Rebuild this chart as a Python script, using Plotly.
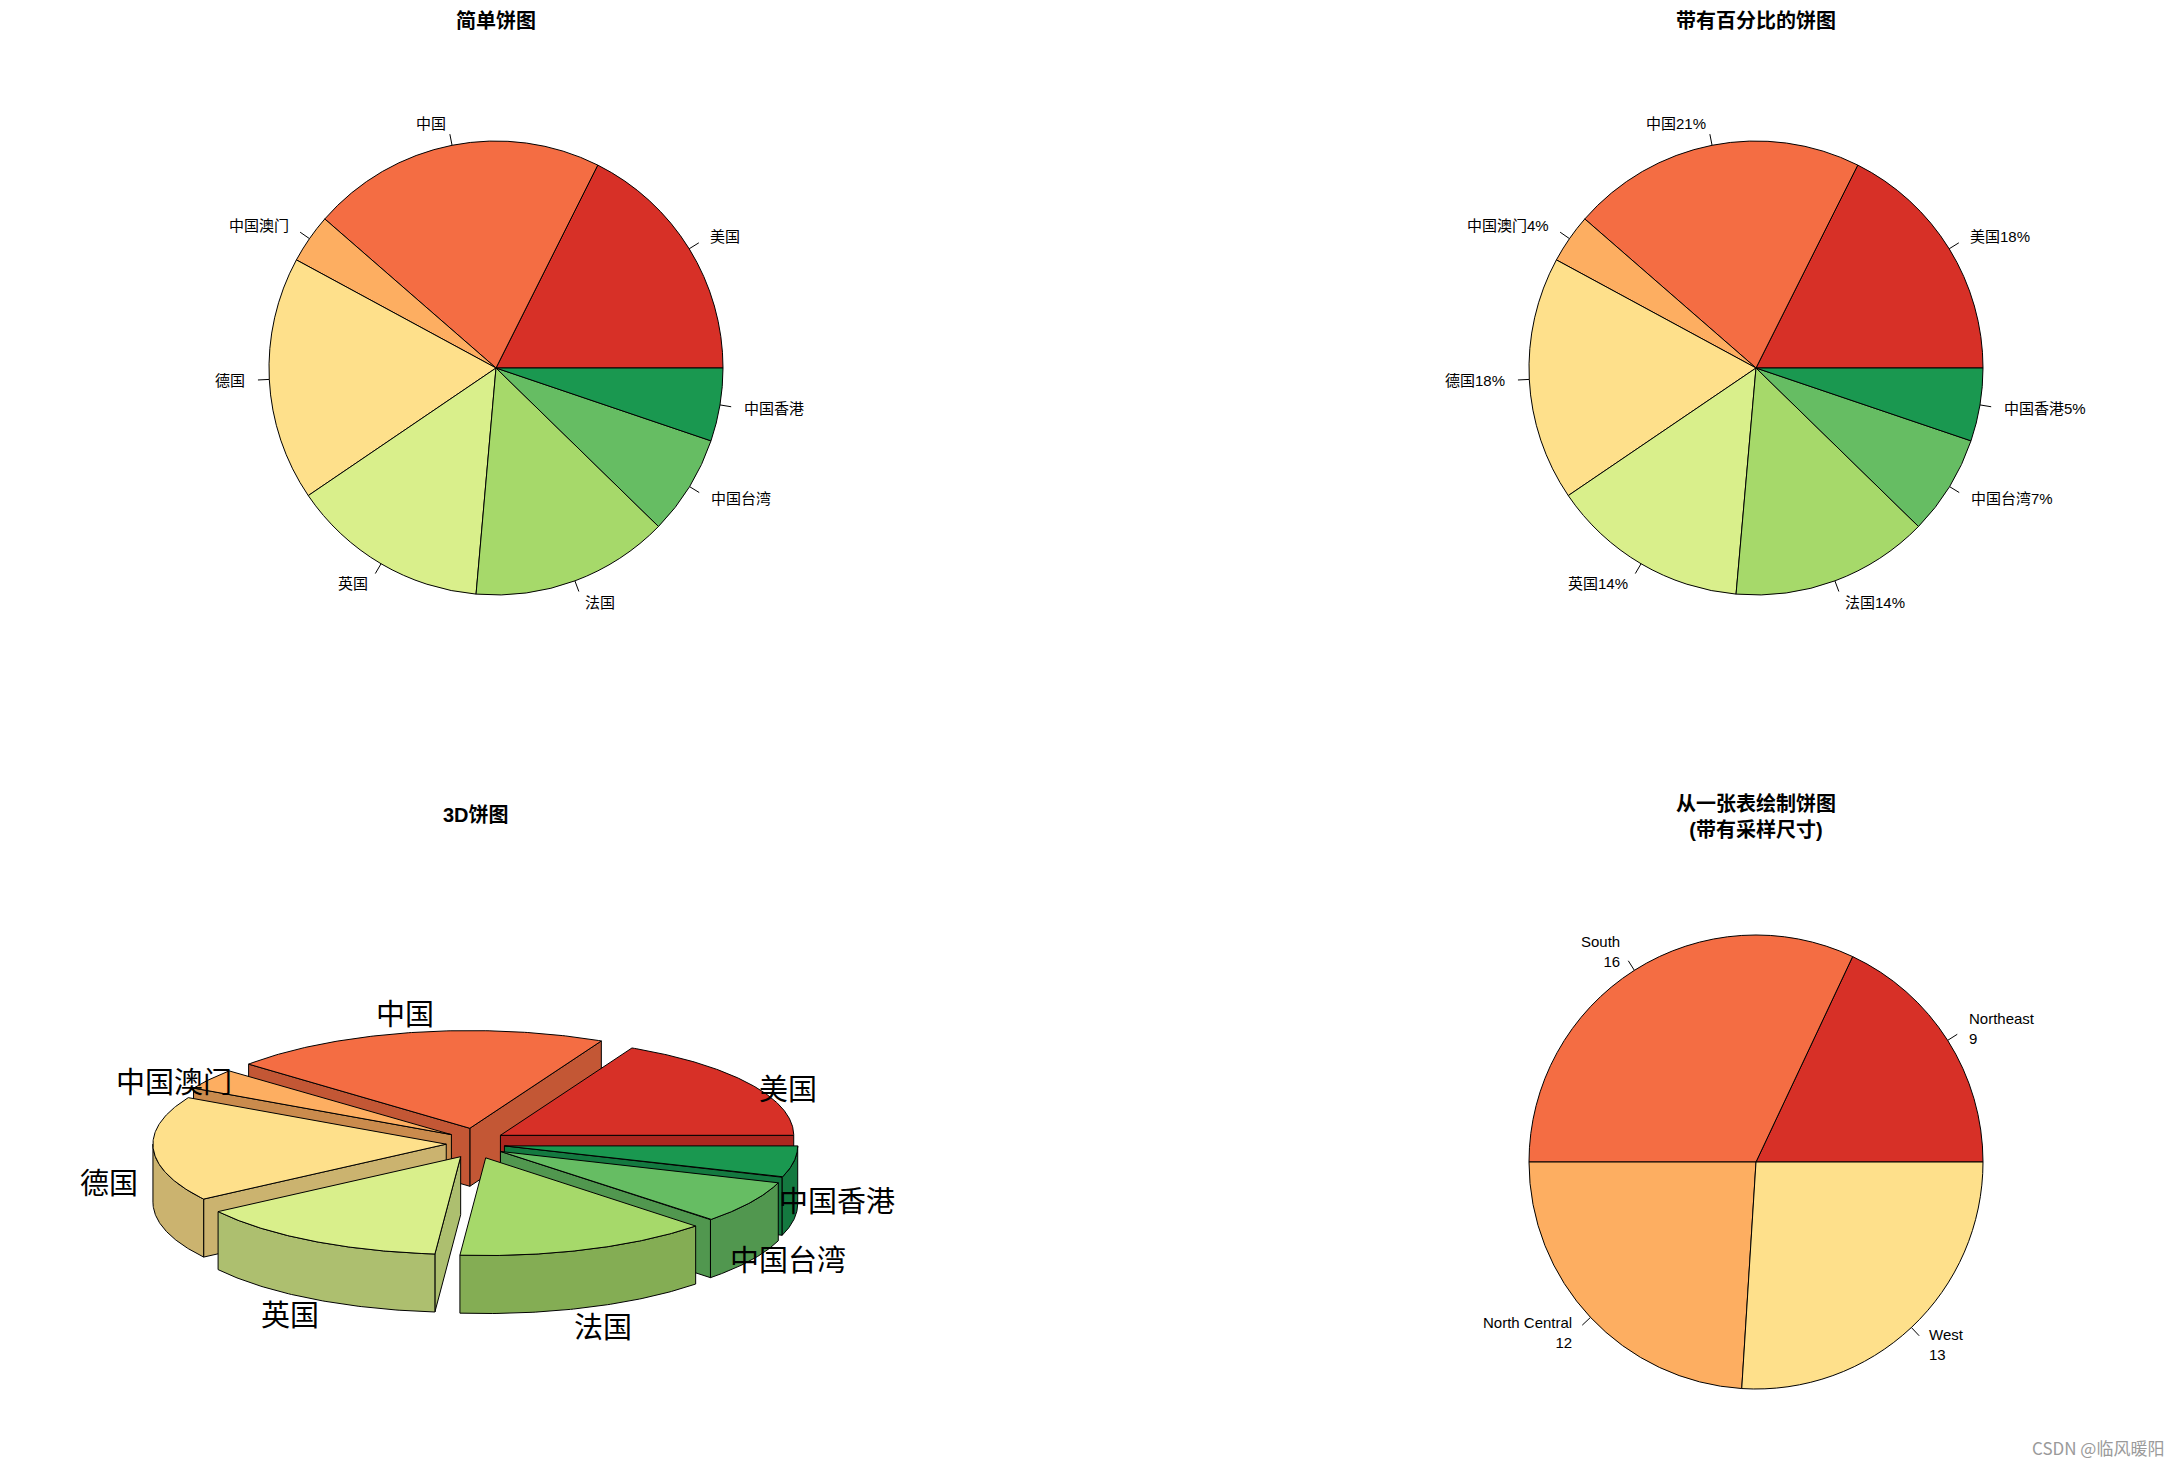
import numpy as np
import plotly.graph_objects as go

W, H = 2180, 1466

# ---------------- data ----------------
countries = ["美国", "中国", "中国澳门", "德国", "英国", "法国", "中国台湾", "中国香港"]
shares = [17.6, 21.0, 3.5, 17.4, 14.1, 14.1, 7.1, 5.2]
pct_labels = ["18%", "21%", "4%", "18%", "14%", "14%", "7%", "5%"]
colors = ["#D73027", "#F46D43", "#FDAE61", "#FEE08B", "#D9EF8B", "#A6D96A", "#66BD63", "#1A9850"]

regions = ["Northeast", "South", "North Central", "West"]
region_counts = [9, 16, 12, 13]
region_colors = colors[:4]

titles = ["简单饼图", "带有百分比的饼图", "3D饼图", "从一张表绘制饼图<br>(带有采样尺寸)"]
watermark = "CSDN @临风暖阳"

# ---------------- layout constants ----------------
R2 = 227
pie_tl = (496, 368)
pie_tr = (1756, 368)
pie_br = (1756, 1162)
c3 = (475.5, 1143.4)
Rx3, Ry3 = 293.3, 97.7
ex3, ey3 = 29.3, 15.4
h3 = 58

LABEL_FONT = "Liberation Sans, Arial, Noto Sans CJK SC"
TITLE_FONT = "Liberation Sans, Noto Sans CJK SC"

fig = go.Figure()
annotations = []
shapes = []


def slice_angles(vals):
    v = np.asarray(vals, dtype=float)
    cum = np.concatenate([[0], np.cumsum(v)]) / v.sum() * 360.0
    return cum[:-1], cum[1:]


def add_pie(vals, labels, cols, center):
    cx, cy = center
    first_deg = 360.0 * vals[0] / float(sum(vals))
    fig.add_trace(go.Pie(
        values=vals, labels=labels, sort=False, direction="counterclockwise",
        rotation=90 - first_deg, textinfo="none", hoverinfo="label+value",
        marker=dict(colors=cols, line=dict(color="black", width=1)),
        domain=dict(x=[(cx - R2) / W, (cx + R2) / W],
                    y=[1 - (cy + R2) / H, 1 - (cy - R2) / H]),
        showlegend=False,
    ))
    a0, a1 = slice_angles(vals)
    for lab, s, e in zip(labels, a0, a1):
        m = np.deg2rad((s + e) / 2)
        c, sn = np.cos(m), np.sin(m)
        shapes.append(dict(type="line", xref="x", yref="y",
                           x0=cx + R2 * c, y0=cy - R2 * sn,
                           x1=cx + 1.05 * R2 * c, y1=cy - 1.05 * R2 * sn,
                           line=dict(color="black", width=1)))
        right = c >= 0
        annotations.append(dict(
            x=cx + 1.1 * R2 * c, y=cy - 1.1 * R2 * sn, xref="x", yref="y",
            text=lab, showarrow=False, xanchor="left" if right else "right",
            yanchor="middle", align="left" if right else "right",
            font=dict(family=LABEL_FONT, size=15, color="black")))


# top-left and top-right
add_pie(shares, countries, colors, pie_tl)
add_pie(shares, [c + p for c, p in zip(countries, pct_labels)], colors, pie_tr)
# bottom-right
add_pie(region_counts, [f"{r}<br>{n}" for r, n in zip(regions, region_counts)],
        region_colors, pie_br)


# ---------------- 3D pie ----------------
def darker(hexcol, f=0.8):
    hexcol = hexcol.lstrip("#")
    r, g, b = (int(hexcol[i:i + 2], 16) for i in (0, 2, 4))
    return f"rgb({int(r * f)},{int(g * f)},{int(b * f)})"


def poly(xs, ys, fill):
    fig.add_trace(go.Scatter(x=list(xs), y=list(ys), mode="lines", fill="toself",
                             fillcolor=fill, line=dict(color="black", width=1),
                             hoverinfo="skip", showlegend=False))


a0s, a1s = slice_angles(shares)
mids = (a0s + a1s) / 2
order = np.argsort(-np.sin(np.deg2rad(mids)))
for i in order:
    s, e, m = a0s[i], a1s[i], np.deg2rad(mids[i])
    ccx = c3[0] + ex3 * np.cos(m)
    ccy = c3[1] - ey3 * np.sin(m)
    side = darker(colors[i])

    def P(a):
        a = np.deg2rad(a)
        return ccx + Rx3 * np.cos(a), ccy - Ry3 * np.sin(a)

    # radial walls
    if np.cos(np.deg2rad(s)) > 1e-9:
        px, py = P(s)
        poly([ccx, px, px, ccx, ccx], [ccy, py, py + h3, ccy + h3, ccy], side)
    if np.cos(np.deg2rad(e)) < -1e-9:
        px, py = P(e)
        poly([ccx, px, px, ccx, ccx], [ccy, py, py + h3, ccy + h3, ccy], side)
    # outer curved wall (front half)
    lo, hi = max(s, 180.0), min(e, 360.0)
    if hi > lo:
        aa = np.linspace(lo, hi, 80)
        xs, ys = P(aa)
        poly(np.concatenate([xs, xs[::-1], xs[:1]]),
             np.concatenate([ys, (ys + h3)[::-1], ys[:1]]), side)
    # top
    aa = np.linspace(s, e, 120)
    xs, ys = P(aa)
    poly(np.concatenate([[ccx], xs, [ccx]]), np.concatenate([[ccy], ys, [ccy]]), colors[i])

for lab, m in zip(countries, mids):
    mr = np.deg2rad(m)
    annotations.append(dict(
        x=c3[0] + 1.25 * Rx3 * np.cos(mr), y=c3[1] - 163 * np.sin(mr) + 29,
        xref="x", yref="y", text=lab, showarrow=False,
        xanchor="center", yanchor="middle",
        font=dict(family="Noto Sans CJK SC", size=29, color="black")))

# ---------------- titles ----------------
title_pos = [(pie_tl[0], 21), (pie_tr[0], 21), (c3[0], 815), (pie_br[0], 816)]
for t, (tx, ty) in zip(titles, title_pos):
    annotations.append(dict(x=tx, y=ty, xref="x", yref="y", text=f"<b>{t}</b>",
                            showarrow=False, xanchor="center", yanchor="middle",
                            font=dict(family=TITLE_FONT, size=20, color="black")))

annotations.append(dict(x=2166, y=1447, xref="x", yref="y", text=watermark,
                        showarrow=False, xanchor="right", yanchor="middle",
                        font=dict(family="Noto Sans CJK SC, Liberation Sans", size=17,
                                  color="#9a9a9a")))

fig.update_layout(
    width=W, height=H, margin=dict(l=0, r=0, t=0, b=0),
    paper_bgcolor="white", plot_bgcolor="white",
    xaxis=dict(range=[0, W], visible=False, fixedrange=True, domain=[0, 1]),
    yaxis=dict(range=[H, 0], visible=False, fixedrange=True, domain=[0, 1]),
    annotations=annotations, shapes=shapes, showlegend=False,
)

fig.write_html("out.html", config={"displayModeBar": False},
               post_script="document.body.style.margin='0';document.body.style.padding='0';")
